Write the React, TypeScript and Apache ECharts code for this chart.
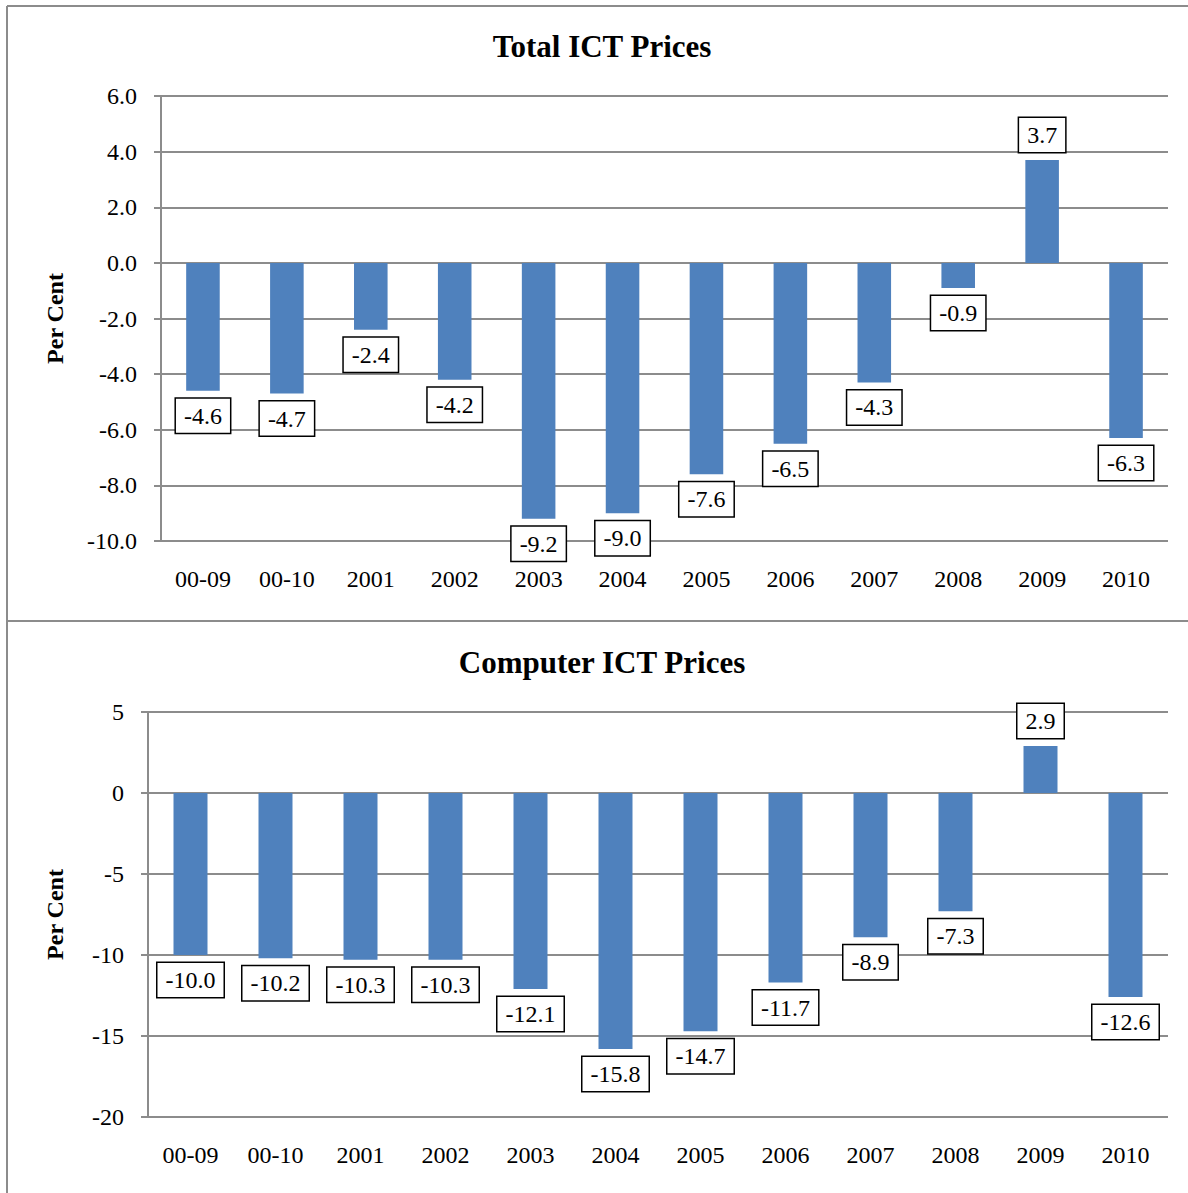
import React, { useEffect, useRef } from "react";
import * as echarts from "echarts";

const categories = ["00-09", "00-10", "2001", "2002", "2003", "2004", "2005", "2006", "2007", "2008", "2009", "2010"];
const totalIct = [-4.6, -4.7, -2.4, -4.2, -9.2, -9.0, -7.6, -6.5, -4.3, -0.9, 3.7, -6.3];
const computerIct = [-10.0, -10.2, -10.3, -10.3, -12.1, -15.8, -14.7, -11.7, -8.9, -7.3, 2.9, -12.6];
const totalTitle = "Total ICT Prices";
const computerTitle = "Computer ICT Prices";
const axisName = "Per Cent";

const FONT = "Liberation Serif";
const BAR = "#4F81BD";
const GRID_LINE = "#8c8c8c";
const W = 1188;
const H = 1193;

function barData(values: number[]) {
  return values.map((v) => ({
    value: v,
    label: { position: v < 0 ? "bottom" : "top" },
  }));
}

function yAxisFor(gridIndex: number, min: number, max: number, interval: number, decimals: number, gap: number) {
  return {
    type: "value",
    gridIndex,
    min,
    max,
    interval,
    name: axisName,
    nameLocation: "middle",
    nameRotate: 90,
    nameGap: gap,
    nameTextStyle: { fontFamily: FONT, fontSize: 24, fontWeight: "bold", color: "#000" },
    axisLine: { show: true, lineStyle: { color: GRID_LINE, width: 2 } },
    axisTick: { show: true, length: 7, lineStyle: { color: GRID_LINE, width: 2 } },
    splitLine: { show: true, lineStyle: { color: GRID_LINE, width: 2 } },
    axisLabel: {
      fontFamily: FONT,
      fontSize: 24,
      color: "#000",
      margin: 24,
      formatter: (v: number) => v.toFixed(decimals),
    },
  };
}

function xAxisFor(gridIndex: number) {
  return {
    type: "category",
    gridIndex,
    data: categories,
    axisLine: { show: false },
    axisTick: { show: false },
    axisLabel: { fontFamily: FONT, fontSize: 24, color: "#000", margin: 26, interval: 0 },
  };
}

function barSeries(idx: number, values: number[]) {
  return {
    type: "bar",
    xAxisIndex: idx,
    yAxisIndex: idx,
    data: barData(values),
    barWidth: "40%",
    itemStyle: { color: BAR },
    label: {
      show: true,
      distance: 8,
      fontFamily: FONT,
      fontSize: 24,
      lineHeight: 24,
      color: "#000",
      backgroundColor: "#fff",
      borderColor: "#000",
      borderWidth: 1.5,
      padding: [5, 8, 5, 8],
      formatter: (p: any) => Number(p.value).toFixed(1),
    },
  };
}

export default function App() {
  const ref = useRef<HTMLDivElement>(null);

  useEffect(() => {
    if (!ref.current) return;
    const chart = echarts.init(ref.current, null, { renderer: "svg", width: W, height: H });
    const titleStyle = { fontFamily: FONT, fontSize: 31, fontWeight: "bold", fill: "#000", textAlign: "center", textVerticalAlign: "middle" };
    chart.setOption({
      animation: false,
      backgroundColor: "#fff",
      grid: [
        { left: 161, top: 96, right: 20, height: 445 },
        { left: 148, top: 712, right: 20, height: 405 },
      ],
      xAxis: [xAxisFor(0), xAxisFor(1)],
      yAxis: [yAxisFor(0, -10, 6, 2, 1, 94), yAxisFor(1, -20, 5, 5, 0, 81)],
      series: [barSeries(0, totalIct), barSeries(1, computerIct)],
      graphic: [
        { type: "line", shape: { x1: 7, y1: 6, x2: W, y2: 6 }, style: { stroke: GRID_LINE, lineWidth: 2 } },
        { type: "line", shape: { x1: 7, y1: 6, x2: 7, y2: H }, style: { stroke: GRID_LINE, lineWidth: 2 } },
        { type: "line", shape: { x1: 7, y1: 621, x2: W, y2: 621 }, style: { stroke: GRID_LINE, lineWidth: 2 } },
        { type: "text", x: 602, y: 46, style: { ...titleStyle, text: totalTitle } },
        { type: "text", x: 602, y: 662, style: { ...titleStyle, text: computerTitle } },
      ],
    });
    return () => chart.dispose();
  }, []);

  return (
    <div style={{ position: "absolute", left: 0, top: 0, width: W, height: H, background: "#fff" }}>
      <div ref={ref} style={{ width: W, height: H }} />
    </div>
  );
}
